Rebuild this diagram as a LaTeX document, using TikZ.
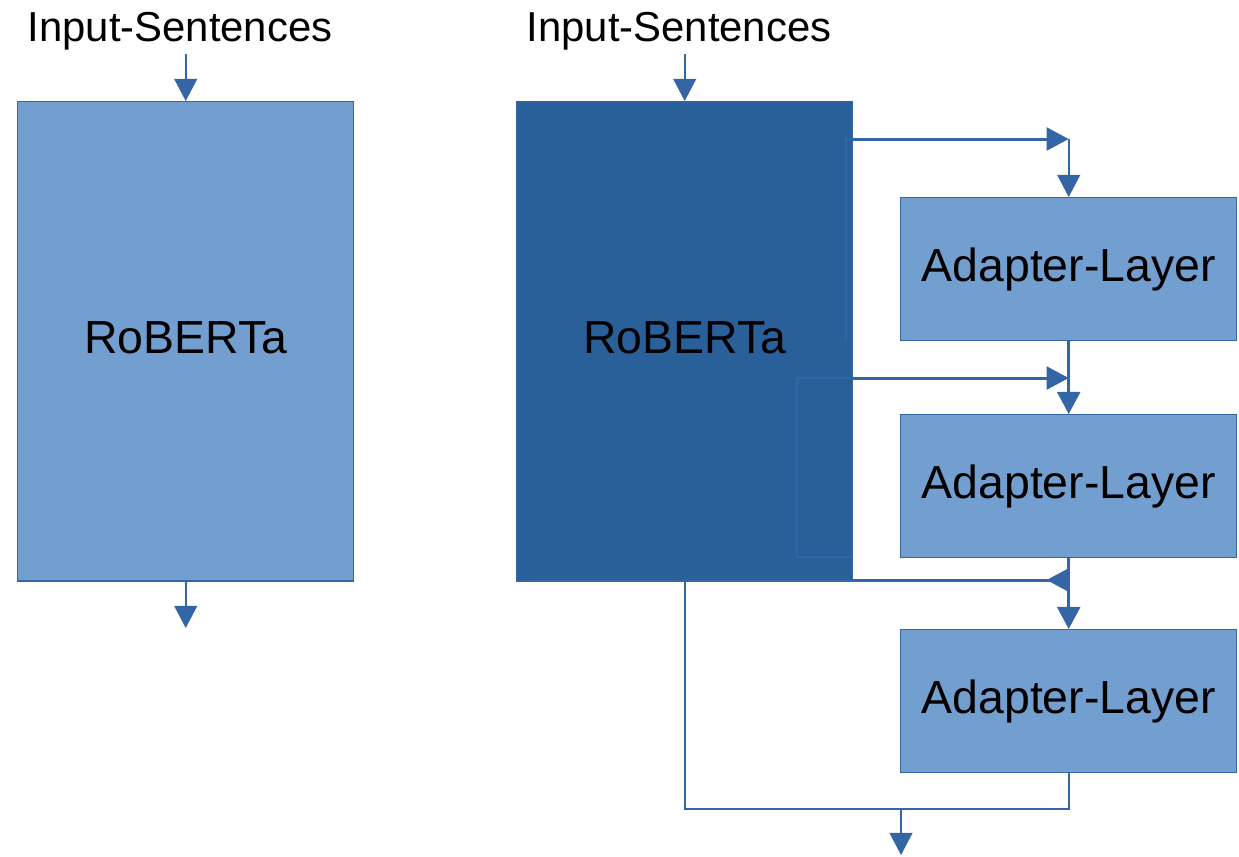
\documentclass[tikz,border=0pt]{standalone}
\usepackage{fontspec}
\setmainfont{Liberation Sans}
\usetikzlibrary{arrows.meta}
\definecolor{lightfill}{HTML}{729FCF}
\definecolor{darkfill}{HTML}{2A6099}
\definecolor{edge}{HTML}{3465A4}
\tikzset{
  lightbox/.style={draw=edge, line width=0.35pt, fill=lightfill, inner sep=0pt},
  darkbox/.style={draw=edge, line width=0.35pt, fill=darkfill, inner sep=0pt},
  label text/.style={font=\fontsize{13.2pt}{15pt}\selectfont},
  caption text/.style={font=\fontsize{11.9pt}{14pt}\selectfont, inner sep=1pt},
  thinarrow/.style={draw=edge, line width=0.45pt, -{Triangle[width=6.5pt,length=6.3pt]}},
  thickarrow/.style={draw=edge, line width=0.85pt, -{Triangle[width=6.5pt,length=6.3pt]}},
  backarrow/.style={draw=edge, line width=0.85pt, -{Triangle[width=6.5pt,length=6.3pt,reversed]}},
  thinline/.style={draw=edge, line width=0.45pt},
  ghost/.style={draw=edge, line width=0.35pt}
}
\begin{document}
\begin{tikzpicture}[x=0.01cm, y=-0.01cm]
\useasboundingbox (0,0) rectangle (1239,856);

% plain model
\node[lightbox, label text, text depth=0.2em, anchor=north west,
      minimum width=3.36cm, minimum height=4.79cm] (rob1) at (17,101) {RoBERTa};
\node[caption text, anchor=base] (in1) at (180,41) {Input-Sentences};
\draw[thinarrow] (rob1.north |- in1.south) -- (rob1.north);
\coordinate (out1) at (rob1.south |- 0,628);
\draw[thinarrow] (rob1.south) -- (out1);

% model with adapters
\node[darkbox, label text, text depth=0.2em, anchor=north west,
      minimum width=3.36cm, minimum height=4.79cm] (rob2) at (516,101) {RoBERTa};
\node[caption text, anchor=base] (in2) at (679,41) {Input-Sentences};
\draw[thinarrow] (rob2.north |- in2.south) -- (rob2.north);

% faint connector outlines inside the frozen model
\draw[ghost] (846,340) -- (846,139) -- (852,139);
\draw[ghost] (852,378) -- (797,378) -- (797,557) -- (852,557);

\node[lightbox, label text, anchor=north west,
      minimum width=3.36cm, minimum height=1.43cm] (ad1) at (900,197) {Adapter-Layer};
\node[lightbox, label text, anchor=north west,
      minimum width=3.36cm, minimum height=1.43cm] (ad2) at (900,414) {Adapter-Layer};
\node[lightbox, label text, anchor=north west,
      minimum width=3.36cm, minimum height=1.43cm] (ad3) at (900,629) {Adapter-Layer};

\coordinate (j1) at (ad1.north |- 0,139);
\coordinate (j2) at (ad1.north |- 0,378);
\coordinate (j3) at (ad1.north |- 0,580);

\draw[thickarrow] (rob2.east |- j1) -- (j1);
\draw[thinarrow] (j1) -- (ad1.north);

\draw[thickarrow] (rob2.east |- j2) -- (j2);
\draw[thickarrow] (ad1.south) -- (ad2.north);

\draw[backarrow] (rob2.east |- j3) -- (j3);
\draw[thickarrow] (ad2.south) -- (ad3.north);

% residual path and output
\coordinate (bl) at (rob2.south |- 0,809);
\coordinate (br) at (ad3.south |- 0,809);
\draw[thinline] (rob2.south) -- (bl) -- (br) -- (ad3.south);
\coordinate (out2) at (901,809);
\coordinate (out2end) at (901,855);
\draw[thinarrow] (out2) -- (out2end);
\end{tikzpicture}
\end{document}
